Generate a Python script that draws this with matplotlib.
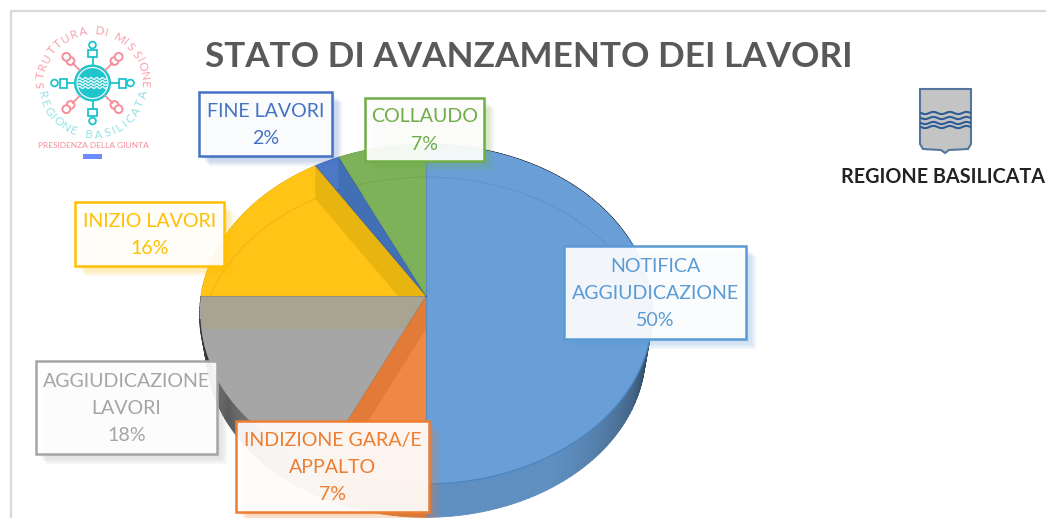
"""Stato di avanzamento dei lavori: 3D style pie with two logos, in pixel coordinates."""
import numpy as np
import matplotlib
matplotlib.use('Agg')
import matplotlib.pyplot as plt
from matplotlib.patches import Polygon, Rectangle, Circle
import matplotlib.patheffects as pe

plt.rcParams['font.family'] = ['Lato', 'DejaVu Sans']

title = 'STATO DI AVANZAMENTO DEI LAVORI'
categories = ['NOTIFICA\nAGGIUDICAZIONE', 'INDIZIONE GARA/E\nAPPALTO', 'AGGIUDICAZIONE\nLAVORI',
              'INIZIO LAVORI', 'FINE LAVORI', 'COLLAUDO']
values = [50, 7, 18, 16, 2, 7]

face_cols = ['#699FD6', '#EE8844', '#A6A6A6', '#FFC416', '#4C78C4', '#7DB25A']
line_cols = ['#5B9BD5', '#ED7D31', '#A5A5A5', '#FFC000', '#4472C4', '#70AD47']
band_cols = [None, '#E27B38', '#A9A391', '#E8B410', '#4170B4', None]
boxes = [(564, 246, 746, 339), (236, 421, 429, 512), (36, 361, 217, 454),
         (75, 202, 224, 266), (199, 92, 332, 156), (365, 98, 484, 161)]

cx, cy, A, B, k, depth = 426, 296, 225, 168, 0.106, 33


def persp(th, dy=0):
    # th is clockwise from the top, circle seen in perspective
    w = 1 + k*np.cos(th)
    return np.column_stack([cx + A*np.sin(th)/w, cy + dy - B*np.cos(th)/w])


def lower(th):
    # outline of the lower face: further away so a bit smaller
    p = persp(th)
    return np.column_stack([cx + 0.97*(p[:, 0] - cx), cy + 39 + 0.97*(p[:, 1] - cy)])


fig = plt.figure(figsize=(10.46, 5.18), dpi=100)
ax = fig.add_axes([0, 0, 1, 1])
ax.set_xlim(0, 1046); ax.set_ylim(518, 0); ax.axis('off')

# frame of the pasted picture
ax.plot([11, 11, 1046], [518, 11, 11], color='#D9D9D9', lw=1.6, zorder=0)

edges = np.deg2rad(np.cumsum([0] + values) * 3.6)

# rim first, the top faces cover what must not show
rim_cols = [np.array(matplotlib.colors.to_rgb(c)) for c in face_cols]
for i in range(len(values)):
    ths = np.linspace(edges[i], edges[i+1], max(values[i]*3, 4))
    for a, b in zip(ths[:-1], ths[1:]):
        deg = np.rad2deg((a + b)/2)
        shade = 0.88
        if i == 2:
            shade = 0.38 + 0.55*max(0, 250 - deg)/40
        elif i == 0:
            shade = 0.9 - 0.55*(max(0, 150 - deg)/55)**1.3
        seg = np.linspace(a, b, 3)
        pts = np.vstack([persp(seg), lower(seg)[::-1]])
        fc = np.clip(rim_cols[i]*shade, 0, 1)
        ax.add_patch(Polygon(pts, fc=fc, ec=fc, lw=0.6, zorder=1))

apex = np.array([cx, cy])
for i in range(len(values)):
    ths = np.linspace(edges[i], edges[i+1], 120)
    wedge = Polygon(np.vstack([apex, persp(ths)]), fc=face_cols[i], ec='none', zorder=2)
    ax.add_patch(wedge)
    if band_cols[i]:
        # side wall of the slice seen through the glass top
        p = persp(np.array([edges[i+1]]))[0]
        wall = [apex, p, p + [0, depth], apex + [0, depth]]
        band = Polygon(wall, fc=band_cols[i], ec='none', zorder=3)
        ax.add_patch(band)
        band.set_clip_path(wedge)
    # faint trace of the lower face
    tr = persp(ths, depth)
    lo, = ax.plot(tr[:, 0], tr[:, 1], color='black', alpha=0.06, lw=1.0, zorder=3)
    lo.set_clip_path(wedge)
    p = persp(np.array([edges[i]]))[0]
    ax.plot([cx, p[0]], [cy, p[1]], color='black', alpha=0.12, lw=0.9, zorder=3)

# darker line where the blue top meets its rim, dark sliver on the grey side
th = np.linspace(edges[0] + 1.2, edges[1], 80)
ax.plot(*persp(th).T, color='#4A86C0', lw=1.0, zorder=3)
th = np.deg2rad(np.linspace(243, 262, 30))
ax.plot(*persp(th).T, color='#333333', lw=1.0, zorder=3)

# data labels
for cat, val, col, (x0, y0, x1, y1) in zip(categories, values, line_cols, boxes):
    r = Rectangle((x0, y0), x1 - x0, y1 - y0, fc=(1, 1, 1, 0.92), ec=col, lw=1.8, zorder=5)
    r.set_path_effects([pe.SimplePatchShadow(offset=(d, -d), shadow_rgbFace=col, alpha=0.09)
                        for d in (7, 5.5, 4, 2.5)] + [pe.Normal()])
    ax.add_patch(r)
    ax.text((x0 + x1)/2, (y0 + y1)/2 + 1, f'{cat}\n{val}%', color=col, fontsize=14.1, ha='center',
            va='center', linespacing=1.74, zorder=6)

ax.text(528.5, 57, title, color='#595959', fontsize=25.3, fontweight='bold', ha='center', va='center')

# logo on the left
lx, ly, teal, pink = 92.5, 83, '#1FC4CC', '#F58E9B'


def ring_text(txt, r, start, span, col, top=True):
    # narrow letters take less of the arc
    wid = np.array([0.5 if ch == 'I' else 0.8 if ch == ' ' else 1.0 for ch in txt])
    pos = np.concatenate([[0], np.cumsum((wid[:-1] + wid[1:])/2)])
    for ch, q in zip(txt, pos/pos[-1]):
        a = np.deg2rad(start + q*span)
        rot = -np.rad2deg(a) if top else -np.rad2deg(a) + 180
        ax.text(lx + r*np.sin(a), ly - r*np.cos(a), ch, color=col, fontsize=8.4, rotation=rot,
                rotation_mode='anchor', ha='center', va='center', alpha=0.85)


ring_text('STRUTTURA DI MISSIONE', 52, -92, 184, pink)
ring_text('REGIONE BASILICATA', 52, 257, -154, '#7FDDE0', top=False)
for n in range(8):
    a = np.deg2rad(n*45)
    s, t = np.sin(a), np.cos(a)
    if n % 2 == 0:
        ax.plot([lx + 18*s, lx + 26*s], [ly - 18*t, ly - 26*t], color=teal, lw=1.3)
        w, h = (9, 7) if n % 4 == 0 else (7, 9)
        ax.add_patch(Rectangle((lx + 29.5*s - w/2, ly - 29.5*t - h/2), w, h, fc='white', ec=teal, lw=1.3))
        ax.add_patch(Circle((lx + 38*s, ly - 38*t), 3.4, fc='white', ec=teal, lw=1.3))
    else:
        ax.plot([lx + 18*s, lx + 28*s], [ly - 18*t, ly - 28*t], color=pink, lw=1.3)
        for rr in (31, 37):
            ax.add_patch(Circle((lx + rr*s, ly - rr*t), 3.9, fc='white', ec=pink, lw=1.4))
ax.add_patch(Circle((lx, ly), 18.5, fc=teal, ec='none'))
ax.add_patch(Circle((lx, ly), 15.5, fc='none', ec='white', lw=0.8))
wx = np.linspace(lx - 14, lx + 14, 40)
for dy in (-4.5, -1.5, 1.5, 4.5):
    ax.plot(wx, ly + dy + 1.0*np.sin((wx - lx)*1.1), color='white', lw=1.0, alpha=0.9)
ax.text(93, 146, 'PRESIDENZA DELLA GIUNTA', color=pink, fontsize=6.0, ha='center', va='center')
ax.add_patch(Rectangle((83, 154), 19, 4.5, fc='#6C8CFF', ec='none'))

# coat of arms on the right
shield = [(920, 89), (971, 89), (971, 144), (968, 149), (949, 150), (945, 153), (941, 150),
          (923, 149), (920, 144)]
ax.add_patch(Polygon(shield, fc='#C4C4C4', ec='#55779F', lw=1.5))
wx = np.linspace(921, 970, 80)
for y0 in (113, 118, 123, 127):
    ax.plot(wx, y0 + 1.1*np.sin((wx - 921)*0.38), color='#2F5C96', lw=1.5)
ax.text(1045, 177, 'REGIONE BASILICATA', color='#222222', fontsize=14.2, fontweight='bold',
        ha='right', va='center')

fig.savefig('out.png', dpi=100)
plt.close(fig)
